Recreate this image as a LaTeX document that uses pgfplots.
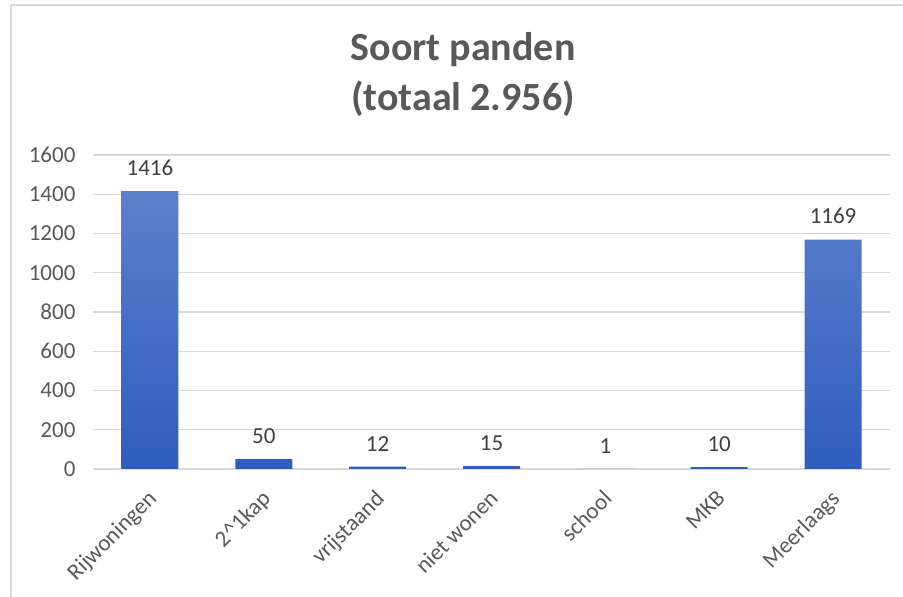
\documentclass[border=0pt]{standalone}
\usepackage{fontspec}
\setmainfont{Carlito}
\usepackage{pgfplots}
\pgfplotsset{compat=1.18}
\definecolor{txt}{HTML}{595959}
\definecolor{lbl}{HTML}{404040}
\definecolor{gridc}{HTML}{D9D9D9}
\definecolor{bartop}{HTML}{5B80CB}
\definecolor{barbot}{HTML}{2F5DBE}
\begin{document}
\begin{tikzpicture}[x=1pt,y=1pt]
\path[use as bounding box] (0,0) rectangle (903,597);
\draw[gridc, line width=1.2pt] (11,0) -- (11,592) -- (903,592);
\node[font=\fontsize{40}{50}\selectfont\bfseries, text=txt, align=center] at (463,522) {Soort panden\\(totaal 2.956)};
\begin{axis}[
  at={(93pt,128pt)}, anchor=south west,
  scale only axis, width=797pt, height=314pt,
  ybar, bar width=57pt,
  xmin=-0.5, xmax=6.5, ymin=0, ymax=1600,
  ytick={0,200,...,1600},
  xtick={0,...,6},
  xticklabels={Rijwoningen,2\textasciicircum{}1kap,vrijstaand,niet wonen,school,MKB,Meerlaags},
  axis line style={draw=none},
  major tick length=0pt,
  ymajorgrids, grid style={gridc, line width=1.2pt},
  tick label style={font=\fontsize{23}{25}\selectfont, text=txt},
  /pgf/number format/assume math mode=true,
  /pgf/number format/1000 sep={},
  scaled y ticks=false,
  yticklabel style={xshift=-14pt},
  xticklabel style={rotate=45, anchor=north east, yshift=-8pt, xshift=-13pt},
  nodes near coords,
  nodes near coords style={font=\fontsize{23}{25}\selectfont, text=lbl, yshift=12pt},
]
\addplot[draw=none, top color=bartop, bottom color=barbot] coordinates {
  (0,1416) (1,50) (2,12) (3,15) (4,1) (5,10) (6,1169)
};
\end{axis}
\end{tikzpicture}
\end{document}
